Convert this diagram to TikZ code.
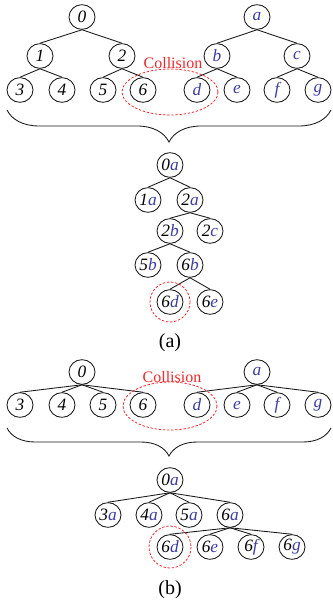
\documentclass[tikz,border=0pt]{standalone}
\usepackage{fontspec}
\setmainfont{Liberation Serif}
\usetikzlibrary{shapes.geometric,decorations.pathreplacing}
\definecolor{Ink}{HTML}{1A1A1A}
\definecolor{Sym}{HTML}{3B3BA3}
\definecolor{Hit}{HTML}{F0282D}
\newcommand{\sy}[1]{\textcolor{Sym}{#1}}

\begin{document}
\begin{tikzpicture}[x=0.75pt,y=-0.75pt,
  tn/.style={draw=Ink,ellipse,line width=0.65pt,inner sep=0pt,
    minimum width=19.5pt,minimum height=18.5pt,
    font=\fontsize{13}{15}\selectfont\itshape},
  ln/.style={Ink,line width=0.65pt},
  hit/.style={Hit,line width=0.6pt,dash pattern=on 1.8pt off 1.3pt},
  br/.style={Ink,line width=0.65pt,decorate,decoration={brace,mirror,amplitude=#1}},
  lab/.style={font=\fontsize{12}{14}\selectfont},
  sublab/.style={font=\fontsize{15}{17}\selectfont}]
  \useasboundingbox (0,0) rectangle (332,605);
  % (a) two trees
  \foreach \n/\t/\x/\y in {
    A0/0/82/17, A1/1/40/56, A2/2/122/56,
    A3/3/20/90, A4/4/62/90, A5/5/103/90, A6/6/143/90,
    P0/\sy{a}/257/17, P1/\sy{b}/217/56, P2/\sy{c}/297/56,
    P3/\sy{d}/197/90, P4/\sy{e}/237/90, P5/\sy{f}/277/90, P6/\sy{g}/318/90} {
    \node[tn] (\n) at (\x,\y) {\t};
  }
  \foreach \p/\c in {A0/A1,A0/A2,A1/A3,A1/A4,A2/A5,A2/A6,
    P0/P1,P0/P2,P1/P3,P1/P4,P2/P5,P2/P6}
    \draw[ln] (\p.south) -- (\c.north);
  \node[lab,text=Hit] (colA) at (173,63) {Collision};
  \draw[hit] (170,92) ellipse [x radius=48,y radius=23];
  \draw[br=24pt] (7,110) -- (331,110);
  % (a) merged tree
  \foreach \n/\t/\x/\y in {
    B0/0\sy{a}/170/165, B1/1\sy{a}/148/200, B2/2\sy{a}/190/200,
    B3/2\sy{b}/170/231, B4/2\sy{c}/210/231,
    B5/5\sy{b}/148/265, B6/6\sy{b}/190/265,
    B7/6\sy{d}/170/302, B8/6\sy{e}/210/302} {
    \node[tn] (\n) at (\x,\y) {\t};
  }
  \foreach \p/\c in {B0/B1,B0/B2,B2/B3,B2/B4,B3/B5,B3/B6,B6/B7,B6/B8}
    \draw[ln] (\p.south) -- (\c.north);
  \draw[hit] (B7) circle [radius=20];
  \node[sublab] (capA) at (170,343) {(a)};
  % (b) two trees
  \foreach \n/\t/\x/\y in {
    C0/0/82/372, C1/3/20/405, C2/4/62/405, C3/5/103/405, C4/6/143/405,
    D0/\sy{a}/257/372, D1/\sy{d}/197/405, D2/\sy{e}/237/405,
    D3/\sy{f}/277/405, D4/\sy{g}/318/405} {
    \node[tn] (\n) at (\x,\y) {\t};
  }
  \foreach \p/\c in {C0/C1,C0/C2,C0/C3,C0/C4,D0/D1,D0/D2,D0/D3,D0/D4}
    \draw[ln] (\p.south) -- (\c.north);
  \node[lab,text=Hit] (colB) at (172,377) {Collision};
  \draw[hit] (170,406) ellipse [x radius=47,y radius=24];
  \draw[br=21pt] (7,428) -- (331,428);
  % (b) merged tree
  \foreach \n/\t/\x/\y in {
    E0/0\sy{a}/170/480, E1/3\sy{a}/108/515, E2/4\sy{a}/149/515,
    E3/5\sy{a}/189/515, E4/6\sy{a}/230/515,
    E5/6\sy{d}/170/547, E6/6\sy{e}/210/547,
    E7/6\sy{f}/251/547, E8/6\sy{g}/292/547} {
    \node[tn] (\n) at (\x,\y) {\t};
  }
  \foreach \p/\c in {E0/E1,E0/E2,E0/E3,E0/E4,E4/E5,E4/E6,E4/E7,E4/E8}
    \draw[ln] (\p.south) -- (\c.north);
  \draw[hit] (E5) circle [radius=21];
  \node[sublab] (capB) at (170,590) {(b)};
\end{tikzpicture}
\end{document}
